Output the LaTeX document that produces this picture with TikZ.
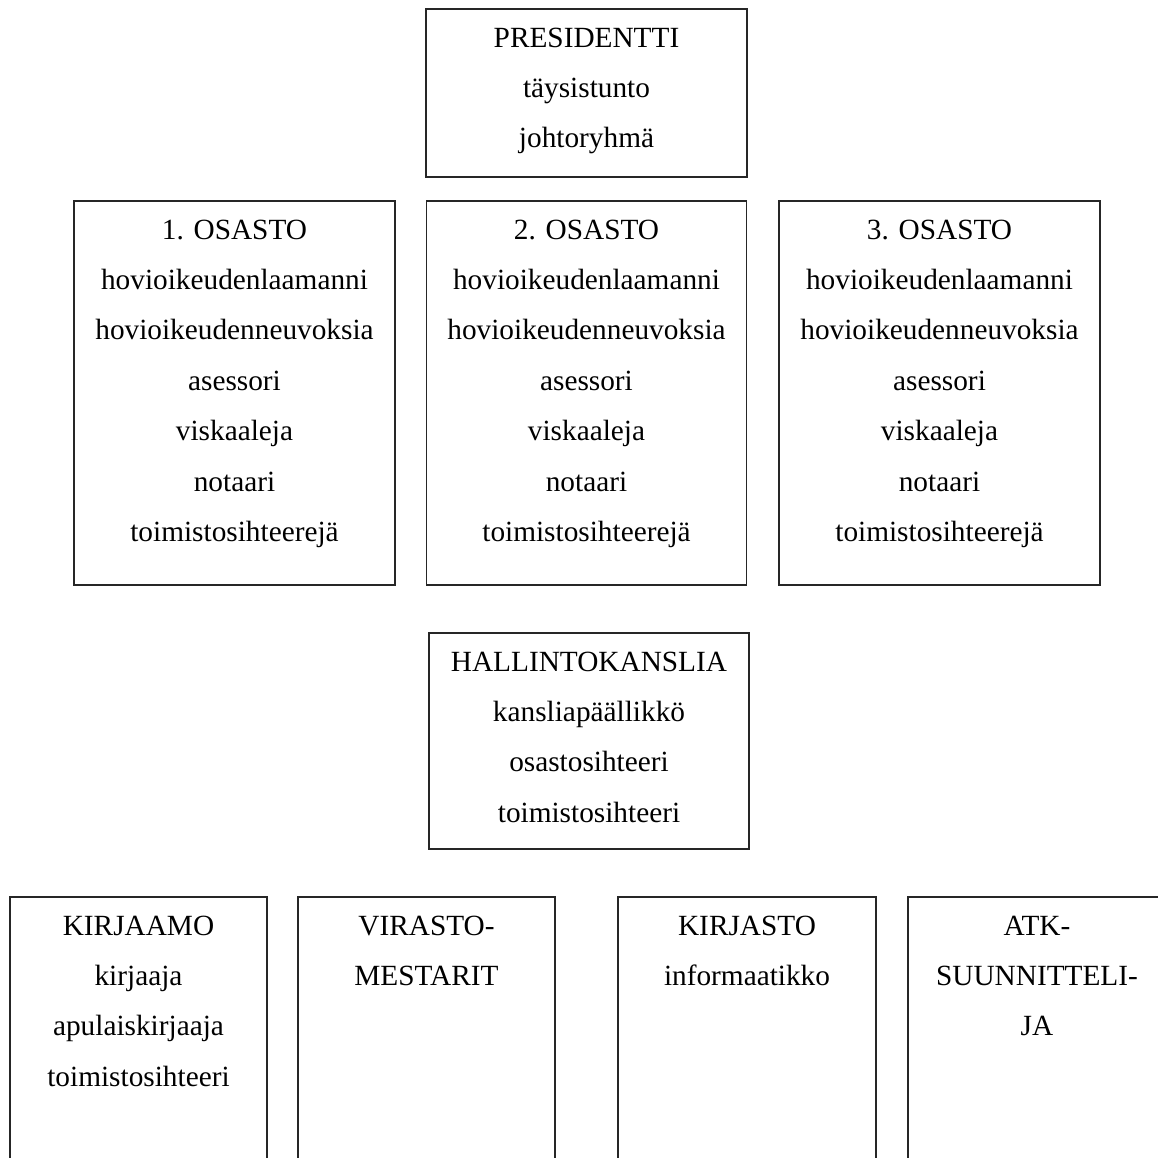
\documentclass[tikz,border=0pt]{standalone}
\usepackage{fontspec}
\setmainfont{Liberation Serif}
\usetikzlibrary{calc}
\begin{document}
\begin{tikzpicture}[x=1pt,y=-1pt,
  boxst/.style={draw=black!85, line width=1.6pt, rectangle, inner sep=0pt, outer sep=0pt},
  txt/.style={anchor=base, inner sep=0pt, font=\fontsize{29.3}{35}\selectfont}]
\useasboundingbox (0,0) rectangle (1158,1157);
\clip (0,0) rectangle (1158,1157);
% boxes
\node[boxst, minimum width=321pt, minimum height=168pt] (pres) at (586.5,93) {};
\node[boxst, minimum width=321pt, minimum height=384pt] (os1) at (234.5,393) {};
\node[boxst, minimum width=320pt, minimum height=384pt] (os2) at (586.5,393) {};
\node[boxst, minimum width=321pt, minimum height=384pt] (os3) at (939.5,393) {};
\node[boxst, minimum width=320pt, minimum height=216pt] (hk) at (589,741) {};
\node[boxst, minimum width=257pt, minimum height=320pt] (kirjaamo) at (138.5,1057) {};
\node[boxst, minimum width=257pt, minimum height=320pt] (virasto) at (426.5,1057) {};
\node[boxst, minimum width=258pt, minimum height=320pt] (kirjasto) at (747,1057) {};
\node[boxst, minimum width=258pt, minimum height=320pt] (atk) at (1037,1057) {};
% texts
\foreach \t [count=\i] in {PRESIDENTTI, täysistunto, johtoryhmä}
  \node[txt] (pres-\i) at ($(pres.north)+(0,{38+50.4*(\i-1)})$) {\t};
\foreach \b/\n in {os1/1, os2/2, os3/3}{
  \foreach \t [count=\i] in {\n. OSASTO, hovioikeudenlaamanni, hovioikeudenneuvoksia, asessori, viskaaleja, notaari, toimistosihteerejä}
    \node[txt] (\b-\i) at ($(\b.north)+(0,{38+50.4*(\i-1)})$) {\t};
}
\foreach \t [count=\i] in {HALLINTOKANSLIA, kansliapäällikkö, osastosihteeri, toimistosihteeri}
  \node[txt] (hk-\i) at ($(hk.north)+(0,{38+50.4*(\i-1)})$) {\t};
\foreach \t [count=\i] in {KIRJAAMO, kirjaaja, apulaiskirjaaja, toimistosihteeri}
  \node[txt] (kirjaamo-\i) at ($(kirjaamo.north)+(0,{38+50.4*(\i-1)})$) {\t};
\foreach \t [count=\i] in {VIRASTO-, MESTARIT}
  \node[txt] (virasto-\i) at ($(virasto.north)+(0,{38+50.4*(\i-1)})$) {\t};
\foreach \t [count=\i] in {KIRJASTO, informaatikko}
  \node[txt] (kirjasto-\i) at ($(kirjasto.north)+(0,{38+50.4*(\i-1)})$) {\t};
\foreach \t [count=\i] in {ATK-, SUUNNITTELI-, JA}
  \node[txt] (atk-\i) at ($(atk.north)+(0,{38+50.4*(\i-1)})$) {\t};
\end{tikzpicture}
\end{document}
